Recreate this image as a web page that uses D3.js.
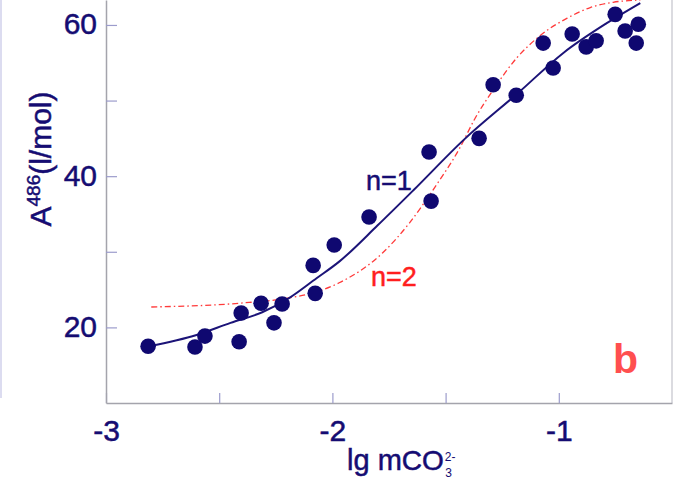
<!DOCTYPE html>
<html>
<head>
<meta charset="utf-8">
<script src="https://cdn.jsdelivr.net/npm/d3@7"></script>
<style>
  body { margin: 0; background: #fff; }
  svg { display: block; font-family: Arial, "Liberation Sans", Helvetica, sans-serif; }
  .heavy { stroke-width: 0.5px; paint-order: stroke; }
</style>
</head>
<body>
<script>
var width = 677;
var height = 482;

// measured points: lg m(CO3 2-) vs A486 (l/mol)
var pointX = [-2.814, -2.607, -2.563, -2.412, -2.403, -2.315, -2.258, -2.222, -2.085, -2.076,
              -1.992, -1.838, -1.573, -1.564, -1.352, -1.290, -1.188, -1.069, -1.025, -0.941,
              -0.879, -0.835, -0.751, -0.707, -0.649, -0.658];
var pointY = [17.5, 17.4, 18.85, 18.1, 21.9, 23.2, 20.6, 23.1, 28.2, 24.5,
              30.9, 34.6, 43.2, 36.7, 45.0, 52.1, 50.7, 57.6, 54.3, 58.8,
              57.1, 57.9, 61.4, 59.2, 60.1, 57.6];

// fitted curve n=1
var blueX = [-2.81, -2.60, -2.45, -2.31, -2.19, -2.07, -1.97, -1.80, -1.64, -1.42, -1.18, -0.98, -0.79, -0.64];
var blueY = [17.5, 19.0, 20.6, 22.0, 23.9, 26.5, 28.7, 33.5, 38.2, 44.8, 51.0, 56.3, 60.2, 62.9];

// fitted curve n=2
var redX = [-2.80, -2.41, -2.19, -2.07, -1.97, -1.78, -1.66, -1.555, -1.436, -1.369, -1.29, -1.184, -1.082, -0.963, -0.861, -0.76, -0.64];
var redY = [22.7, 23.2, 23.9, 24.7, 25.9, 29.8, 33.8, 38.2, 43.8, 47.7, 51.4, 55.7, 58.6, 60.9, 62.3, 63.0, 63.3];

var xTicks = [-3, -2.5, -2, -1.5, -1];
var yTicks = [20, 30, 40, 50, 60];

var navy = "#150c72";

var svg = d3.select("body").append("svg")
    .attr("width", width)
    .attr("height", height);

var x = d3.scaleLinear().domain([-3, -0.5]).range([106, 672]);
var y = d3.scaleLinear().domain([10, 63.3]).range([403, 0]);

// faint left border of the scanned page
svg.append("line")
    .attr("x1", 1).attr("x2", 1).attr("y1", 0).attr("y2", 398)
    .attr("stroke", "#dcdcf0").attr("stroke-width", 2);

// right frame
svg.append("line")
    .attr("x1", x(-0.5)).attr("x2", x(-0.5)).attr("y1", 0).attr("y2", y(10))
    .attr("stroke", "#cfcfd6").attr("stroke-width", 1.5);

var xAxis = svg.append("g")
    .attr("transform", "translate(0," + y(10) + ")")
    .call(d3.axisBottom(x).tickValues(xTicks).tickSize(-10).tickSizeOuter(0)
      .tickFormat(function(d) { return Number.isInteger(d) ? d : ""; }));

var yAxis = svg.append("g")
    .attr("transform", "translate(" + x(-3) + ",0)")
    .call(d3.axisLeft(y).tickValues(yTicks).tickSize(-11).tickSizeOuter(0).tickPadding(9)
      .tickFormat(function(d) { return d % 20 === 0 ? d : ""; }));

[xAxis, yAxis].forEach(function(g) {
  g.select(".domain").attr("stroke", "#a4a4ac").attr("stroke-width", 1.5);
  g.selectAll(".tick line").attr("stroke", "#9c9ccc").attr("stroke-width", 1.2);
  g.selectAll("text")
    .attr("class", "heavy")
    .attr("fill", navy)
    .attr("stroke", navy)
    .style("font-size", "30px")
    .style("font-family", "Arial, 'Liberation Sans', sans-serif");
});

xAxis.selectAll("text").attr("y", 38).attr("dy", 0);
yAxis.selectAll("text").attr("dy", "0.3em");

// curves
var line = d3.line()
    .x(function(d) { return x(d[0]); })
    .y(function(d) { return y(d[1]); })
    .curve(d3.curveMonotoneX);

svg.append("path")
    .datum(redX.map(function(v, i) { return [v, redY[i]]; }))
    .attr("d", line)
    .attr("fill", "none")
    .attr("stroke", "#ff3a3a")
    .attr("stroke-width", 1.3)
    .attr("stroke-dasharray", "6,3,1.5,3");

svg.append("path")
    .datum(blueX.map(function(v, i) { return [v, blueY[i]]; }))
    .attr("d", line)
    .attr("fill", "none")
    .attr("stroke", "#1c1478")
    .attr("stroke-width", 2);

svg.selectAll("circle.pt")
    .data(pointX.map(function(v, i) { return [v, pointY[i]]; }))
  .enter().append("circle")
    .attr("class", "pt")
    .attr("cx", function(d) { return x(d[0]); })
    .attr("cy", function(d) { return y(d[1]); })
    .attr("r", 7.8)
    .attr("fill", "#0f0870");

// annotations
svg.append("text")
    .attr("class", "heavy")
    .attr("x", 366).attr("y", 190)
    .attr("fill", navy).attr("stroke", navy)
    .style("font-size", "27px")
    .text("n=1");

svg.append("text")
    .attr("class", "heavy")
    .attr("x", 371).attr("y", 286)
    .attr("fill", "#ff1e1e").attr("stroke", "#ff1e1e")
    .style("font-size", "27px")
    .text("n=2");

svg.append("text")
    .attr("x", 613).attr("y", 373)
    .attr("fill", "#ff4f4f")
    .style("font-size", "41px")
    .style("font-weight", "bold")
    .text("b");

// y label
var yl = svg.append("text")
    .attr("class", "heavy")
    .attr("transform", "translate(51,159) rotate(-90)")
    .attr("text-anchor", "middle")
    .attr("fill", navy).attr("stroke", navy)
    .style("font-size", "30px");
yl.append("tspan").text("A");
yl.append("tspan").attr("dy", -11).style("font-size", "19px").text("486");
yl.append("tspan").attr("dy", 11).text("(l/mol)");

// x label
var xl = svg.append("text")
    .attr("class", "heavy")
    .attr("x", 347).attr("y", 470)
    .attr("fill", navy).attr("stroke", navy)
    .style("font-size", "29px");
xl.append("tspan").text("lg m");
xl.append("tspan").style("font-size", "28px").text("CO");

var xr = xl.node().getBBox();
svg.append("text")
    .attr("x", xr.x + xr.width + 1).attr("y", 461)
    .attr("fill", navy)
    .style("font-size", "12px")
    .text("2-");
svg.append("text")
    .attr("x", xr.x + xr.width + 1.5).attr("y", 477)
    .attr("fill", navy)
    .style("font-size", "12px")
    .text("3");
</script>
</body>
</html>
